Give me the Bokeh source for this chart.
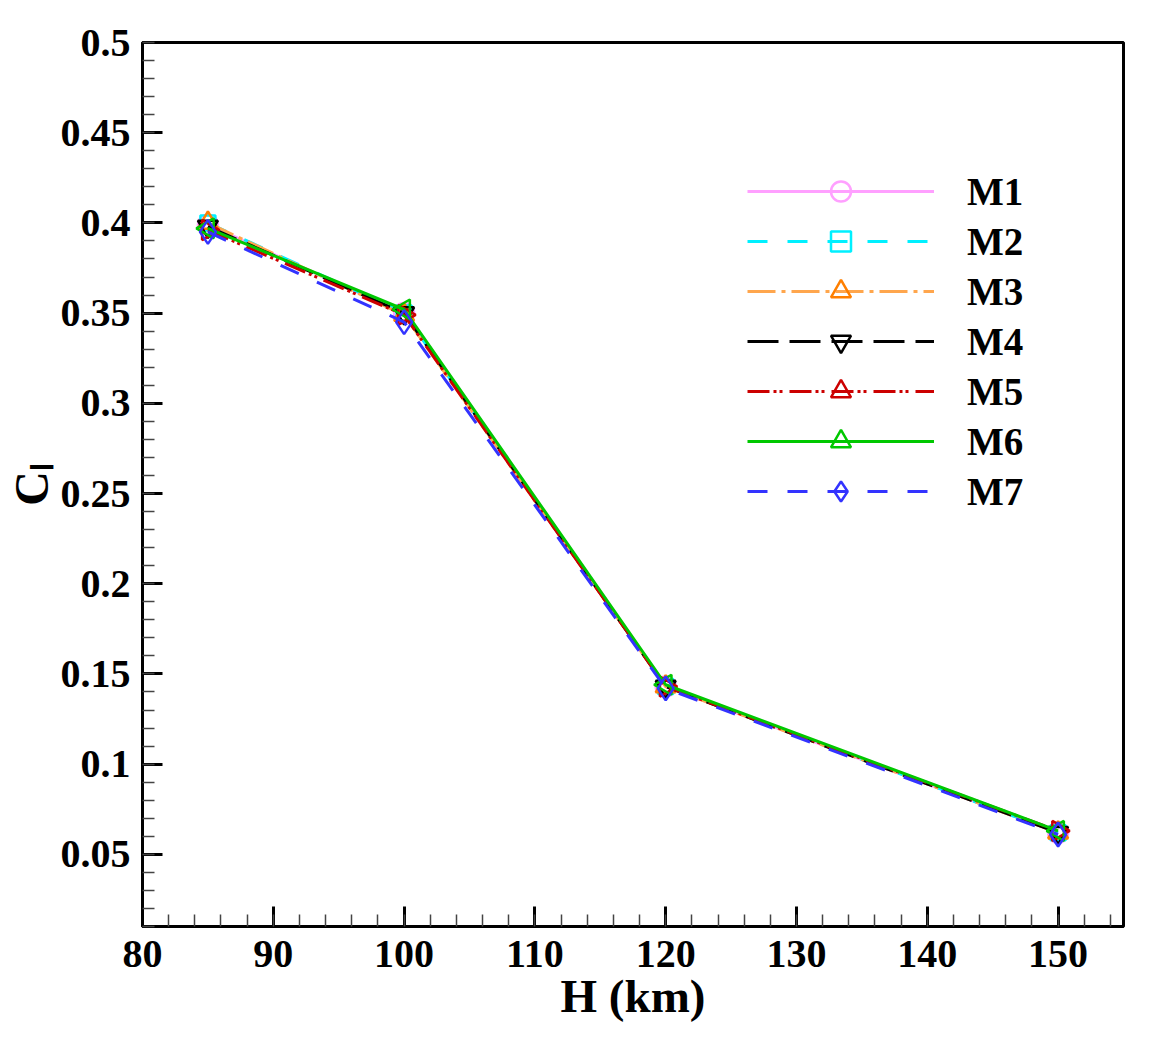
import numpy as np
from bokeh.plotting import figure
from bokeh.models import FixedTicker, NumeralTickFormatter, Legend, LegendItem, Range1d
from bokeh.embed import file_html
from bokeh.resources import INLINE

# ---- data ----
H = [85, 100, 120, 150]
M1 = [0.399, 0.350, 0.143, 0.062]
M2 = [0.400, 0.350, 0.143, 0.062]
M3 = [0.400, 0.349, 0.143, 0.062]
M4 = [0.398, 0.350, 0.143, 0.062]
M5 = [0.396, 0.349, 0.143, 0.063]
M6 = [0.397, 0.352, 0.144, 0.063]
M7 = [0.395, 0.345, 0.142, 0.061]
names = ["M1", "M2", "M3", "M4", "M5", "M6", "M7"]
series = [M1, M2, M3, M4, M5, M6, M7]

x_ticks = [80, 90, 100, 110, 120, 130, 140, 150]
x_minor = list(range(80, 156, 2))
y_ticks = [0.05, 0.1, 0.15, 0.2, 0.25, 0.3, 0.35, 0.4, 0.45, 0.5]
y_minor = [round(0.01 * i, 2) for i in range(1, 51)]

x_title = "H (km)"
y_title = "C\u2097"

# ---- styles ----
line_colors = ["#FFA0FF", "#00F0FF", "#FFA64D", "#000000", "#CC0000", "#00C800", "#3333FF"]
marker_colors = ["#FFA0FF", "#00F0FF", "#FF7F00", "#000000", "#CC0000", "#00C800", "#3333FF"]
markers = ["circle", "square", "triangle", "inverted_triangle", "triangle", "triangle", "diamond"]
angles = [0, 0, 0, 0, -np.pi / 2, np.pi / 2, 0]
sizes = [20, 15, 20, 20, 20, 20, 24]
dashes = ["solid", "20 20", "28 6 4 6", "31 11", "22 4 3 3 3 7", "solid", "20 20"]

FONT = "Liberation Serif"

p = figure(width=1155, height=1041, x_range=Range1d(80, 155), y_range=Range1d(0.01, 0.5),
           output_backend="svg", toolbar_location=None,
           min_border_left=142, min_border_right=32, min_border_top=42, min_border_bottom=115)
p.background_fill_color = "white"
p.border_fill_color = "white"
p.outline_line_color = "black"
p.outline_line_width = 3
p.xgrid.grid_line_color = None
p.ygrid.grid_line_color = None

for ax in (p.xaxis[0], p.yaxis[0]):
    ax.axis_line_width = 3
    ax.axis_line_color = "black"
    ax.major_tick_in = 20
    ax.major_tick_out = 0
    ax.major_tick_line_width = 3
    ax.minor_tick_in = 12
    ax.minor_tick_out = 0
    ax.minor_tick_line_width = 1.5
    ax.minor_tick_line_color = "#444444"
    ax.major_label_text_font = FONT
    ax.major_label_text_font_style = "bold"
    ax.major_label_text_font_size = "40px"
    ax.major_label_text_color = "black"
    ax.axis_label_text_font = FONT
    ax.axis_label_text_font_style = "bold"
    ax.axis_label_text_color = "black"

p.xaxis[0].ticker = FixedTicker(ticks=x_ticks, minor_ticks=x_minor)
p.yaxis[0].ticker = FixedTicker(ticks=y_ticks, minor_ticks=y_minor)
p.yaxis[0].formatter = NumeralTickFormatter(format="0.[00]")
p.xaxis[0].major_label_standoff = 14
p.yaxis[0].major_label_standoff = 12

p.xaxis[0].axis_label = x_title
p.xaxis[0].axis_label_text_font_size = "47px"
p.xaxis[0].axis_label_standoff = 0
p.yaxis[0].axis_label = y_title
p.yaxis[0].axis_label_text_font_size = "48px"
p.yaxis[0].axis_label_standoff = 0

items = []
for name, ys, lc, mc, mk, ang, sz, dash in zip(names, series, line_colors, marker_colors,
                                               markers, angles, sizes, dashes):
    lr = p.line(H, ys, line_color=lc, line_width=3, line_dash=dash)
    sr = p.scatter(H, ys, marker=mk, size=sz, angle=ang, line_color=mc, line_width=2.5,
                   fill_color=None)
    items.append(LegendItem(label=name, renderers=[lr, sr]))

legend = Legend(items=items, location=(605, 410), padding=0, spacing=0, margin=0,
                glyph_width=187, glyph_height=50, label_height=50, label_standoff=33,
                label_text_font=FONT, label_text_font_style="bold",
                label_text_font_size="39px", label_text_color="black",
                border_line_alpha=0, background_fill_alpha=0)
p.add_layout(legend)

open("out.html", "w").write(file_html(p, INLINE))
